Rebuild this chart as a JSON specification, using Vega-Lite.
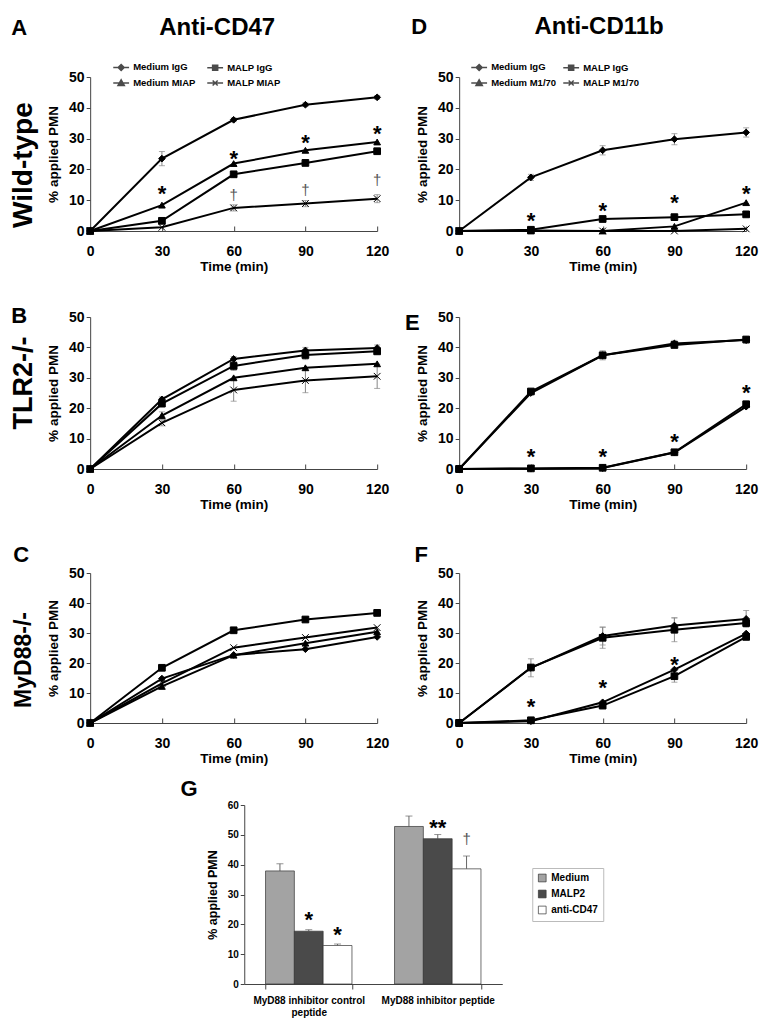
{
  "$schema": "https://vega.github.io/schema/vega-lite/v6.json",
  "padding": {"left": 10, "top": 15, "right": 5, "bottom": 5},
  "config": {
    "font": "Liberation Sans",
    "view": {"stroke": null},
    "axis": {"grid": false, "labelFontWeight": "bold", "titleFontWeight": "bold", "labelColor": "#000", "titleColor": "#000", "domainColor": "#444", "tickColor": "#444"},
    "axisX": {"labelFontSize": 14, "titleFontSize": 13.5, "tickSize": -5, "labelPadding": 18, "titlePadding": 1, "labelFlush": false, "labelOverlap": false},
    "axisY": {"labelFontSize": 14, "titleFontSize": 13.5, "tickSize": 4, "labelPadding": 2, "titlePadding": 8},
    "legend": {"labelFontWeight": "bold", "labelColor": "#000", "layout": {"right": {"anchor": "middle"}}}
  },
  "datasets": {
    "lines": [
      {"p":"A","s":"Medium IgG","t":0,"v":0},{"p":"A","s":"Medium IgG","t":30,"v":23.5,"err":2.3},{"p":"A","s":"Medium IgG","t":60,"v":36.1,"err":0.6},{"p":"A","s":"Medium IgG","t":90,"v":41.0,"err":0.6},{"p":"A","s":"Medium IgG","t":120,"v":43.4,"err":0.6},
      {"p":"A","s":"Medium MIAP","t":0,"v":0},{"p":"A","s":"Medium MIAP","t":30,"v":8.4},{"p":"A","s":"Medium MIAP","t":60,"v":21.9},{"p":"A","s":"Medium MIAP","t":90,"v":26.2},{"p":"A","s":"Medium MIAP","t":120,"v":28.9},
      {"p":"A","s":"MALP MIAP","t":0,"v":0},{"p":"A","s":"MALP MIAP","t":30,"v":1.2},{"p":"A","s":"MALP MIAP","t":60,"v":7.5,"err":1},{"p":"A","s":"MALP MIAP","t":90,"v":8.9,"err":1},{"p":"A","s":"MALP MIAP","t":120,"v":10.5,"err":1.3},
      {"p":"A","s":"MALP IgG","t":0,"v":0},{"p":"A","s":"MALP IgG","t":30,"v":3.3},{"p":"A","s":"MALP IgG","t":60,"v":18.4,"err":1},{"p":"A","s":"MALP IgG","t":90,"v":22.1},{"p":"A","s":"MALP IgG","t":120,"v":25.9,"err":0.8},
      {"p":"D","s":"Medium IgG","t":0,"v":0},{"p":"D","s":"Medium IgG","t":30,"v":17.4,"err":1},{"p":"D","s":"Medium IgG","t":60,"v":26.2,"err":1.5},{"p":"D","s":"Medium IgG","t":90,"v":29.8,"err":1.8},{"p":"D","s":"Medium IgG","t":120,"v":32.0,"err":1.5},
      {"p":"D","s":"Medium M1/70","t":0,"v":0},{"p":"D","s":"Medium M1/70","t":30,"v":0},{"p":"D","s":"Medium M1/70","t":60,"v":0},{"p":"D","s":"Medium M1/70","t":90,"v":1.5},{"p":"D","s":"Medium M1/70","t":120,"v":9.2},
      {"p":"D","s":"MALP M1/70","t":0,"v":0},{"p":"D","s":"MALP M1/70","t":30,"v":0.2},{"p":"D","s":"MALP M1/70","t":60,"v":0},{"p":"D","s":"MALP M1/70","t":90,"v":0},{"p":"D","s":"MALP M1/70","t":120,"v":0.7},
      {"p":"D","s":"MALP IgG","t":0,"v":0},{"p":"D","s":"MALP IgG","t":30,"v":0.4},{"p":"D","s":"MALP IgG","t":60,"v":3.9},{"p":"D","s":"MALP IgG","t":90,"v":4.5},{"p":"D","s":"MALP IgG","t":120,"v":5.4},
      {"p":"B","s":"Medium IgG","t":0,"v":0},{"p":"B","s":"Medium IgG","t":30,"v":22.9,"err":0.8},{"p":"B","s":"Medium IgG","t":60,"v":36.2,"err":0.8},{"p":"B","s":"Medium IgG","t":90,"v":39.0,"err":1},{"p":"B","s":"Medium IgG","t":120,"v":39.8,"err":1},
      {"p":"B","s":"Medium MIAP","t":0,"v":0},{"p":"B","s":"Medium MIAP","t":30,"v":17.6,"err":1.2},{"p":"B","s":"Medium MIAP","t":60,"v":30.0},{"p":"B","s":"Medium MIAP","t":90,"v":33.3},{"p":"B","s":"Medium MIAP","t":120,"v":34.6},
      {"p":"B","s":"MALP MIAP","t":0,"v":0},{"p":"B","s":"MALP MIAP","t":30,"v":15.2,"err":1},{"p":"B","s":"MALP MIAP","t":60,"v":26.0,"err":3.7},{"p":"B","s":"MALP MIAP","t":90,"v":29.1,"err":4},{"p":"B","s":"MALP MIAP","t":120,"v":30.5,"err":4},
      {"p":"B","s":"MALP IgG","t":0,"v":0},{"p":"B","s":"MALP IgG","t":30,"v":21.5},{"p":"B","s":"MALP IgG","t":60,"v":33.9,"err":1.5},{"p":"B","s":"MALP IgG","t":90,"v":37.5,"err":1.5},{"p":"B","s":"MALP IgG","t":120,"v":38.7,"err":1},
      {"p":"E","s":"Medium IgG","t":0,"v":0},{"p":"E","s":"Medium IgG","t":30,"v":25.0},{"p":"E","s":"Medium IgG","t":60,"v":37.4,"err":1.5},{"p":"E","s":"Medium IgG","t":90,"v":41.3,"err":1},{"p":"E","s":"Medium IgG","t":120,"v":42.4,"err":1},
      {"p":"E","s":"Medium M1/70","t":0,"v":0},{"p":"E","s":"Medium M1/70","t":30,"v":0.1},{"p":"E","s":"Medium M1/70","t":60,"v":0.3},{"p":"E","s":"Medium M1/70","t":90,"v":5.4},{"p":"E","s":"Medium M1/70","t":120,"v":20.5},
      {"p":"E","s":"MALP M1/70","t":0,"v":0},{"p":"E","s":"MALP M1/70","t":30,"v":0.2},{"p":"E","s":"MALP M1/70","t":60,"v":0.4},{"p":"E","s":"MALP M1/70","t":90,"v":5.5},{"p":"E","s":"MALP M1/70","t":120,"v":21.3},
      {"p":"E","s":"MALP IgG","t":0,"v":0},{"p":"E","s":"MALP IgG","t":30,"v":25.5},{"p":"E","s":"MALP IgG","t":60,"v":37.4},{"p":"E","s":"MALP IgG","t":90,"v":40.8},{"p":"E","s":"MALP IgG","t":120,"v":42.6},
      {"p":"C","s":"Medium IgG","t":0,"v":0},{"p":"C","s":"Medium IgG","t":30,"v":14.8},{"p":"C","s":"Medium IgG","t":60,"v":22.7},{"p":"C","s":"Medium IgG","t":90,"v":24.6},{"p":"C","s":"Medium IgG","t":120,"v":28.7},
      {"p":"C","s":"Medium MIAP","t":0,"v":0},{"p":"C","s":"Medium MIAP","t":30,"v":12.2},{"p":"C","s":"Medium MIAP","t":60,"v":22.6},{"p":"C","s":"Medium MIAP","t":90,"v":26.6},{"p":"C","s":"Medium MIAP","t":120,"v":30.4},
      {"p":"C","s":"MALP MIAP","t":0,"v":0},{"p":"C","s":"MALP MIAP","t":30,"v":13.2},{"p":"C","s":"MALP MIAP","t":60,"v":25.1},{"p":"C","s":"MALP MIAP","t":90,"v":28.5},{"p":"C","s":"MALP MIAP","t":120,"v":31.8},
      {"p":"C","s":"MALP IgG","t":0,"v":0},{"p":"C","s":"MALP IgG","t":30,"v":18.4},{"p":"C","s":"MALP IgG","t":60,"v":30.9},{"p":"C","s":"MALP IgG","t":90,"v":34.5},{"p":"C","s":"MALP IgG","t":120,"v":36.7},
      {"p":"F","s":"Medium IgG","t":0,"v":0},{"p":"F","s":"Medium IgG","t":30,"v":18.4,"err":3},{"p":"F","s":"Medium IgG","t":60,"v":29.0,"err":3},{"p":"F","s":"Medium IgG","t":90,"v":32.5,"err":2.5},{"p":"F","s":"Medium IgG","t":120,"v":34.7,"err":2.8},
      {"p":"F","s":"Medium M1/70","t":0,"v":0},{"p":"F","s":"Medium M1/70","t":30,"v":0.6},{"p":"F","s":"Medium M1/70","t":60,"v":6.9},{"p":"F","s":"Medium M1/70","t":90,"v":17.8},{"p":"F","s":"Medium M1/70","t":120,"v":29.8},
      {"p":"F","s":"MALP M1/70","t":0,"v":0},{"p":"F","s":"MALP M1/70","t":30,"v":0.9},{"p":"F","s":"MALP M1/70","t":60,"v":5.8,"err":1},{"p":"F","s":"MALP M1/70","t":90,"v":15.6,"err":2},{"p":"F","s":"MALP M1/70","t":120,"v":28.7},
      {"p":"F","s":"MALP IgG","t":0,"v":0},{"p":"F","s":"MALP IgG","t":30,"v":18.5},{"p":"F","s":"MALP IgG","t":60,"v":28.4,"err":3.5},{"p":"F","s":"MALP IgG","t":90,"v":31.1,"err":4},{"p":"F","s":"MALP IgG","t":120,"v":33.3}
    ],
    "ann": [
      {"p":"A","t":30,"v":13.5,"txt":"*"},{"p":"A","t":60,"v":25,"txt":"*"},{"p":"A","t":90,"v":30.3,"txt":"*"},{"p":"A","t":120,"v":33,"txt":"*"},
      {"p":"A","t":60,"v":11.7,"txt":"†"},{"p":"A","t":90,"v":13.3,"txt":"†"},{"p":"A","t":120,"v":16.5,"txt":"†"},
      {"p":"D","t":30,"v":5,"txt":"*"},{"p":"D","t":60,"v":8.1,"txt":"*"},{"p":"D","t":90,"v":10.7,"txt":"*"},{"p":"D","t":120,"v":13.6,"txt":"*"},
      {"p":"E","t":30,"v":5.5,"txt":"*"},{"p":"E","t":60,"v":5.5,"txt":"*"},{"p":"E","t":90,"v":10.4,"txt":"*"},{"p":"E","t":120,"v":26.7,"txt":"*"},
      {"p":"F","t":30,"v":7.1,"txt":"*"},{"p":"F","t":60,"v":13.2,"txt":"*"},{"p":"F","t":90,"v":21,"txt":"*"}
    ],
    "bars": [
      {"grp":"MyD88 inhibitor control peptide","cond":"Medium","v":37.9,"hi":40.3},
      {"grp":"MyD88 inhibitor control peptide","cond":"MALP2","v":17.7,"hi":18.2},
      {"grp":"MyD88 inhibitor control peptide","cond":"anti-CD47","v":12.9,"hi":13.4},
      {"grp":"MyD88 inhibitor peptide","cond":"Medium","v":52.8,"hi":56.3},
      {"grp":"MyD88 inhibitor peptide","cond":"MALP2","v":48.7,"hi":50.1},
      {"grp":"MyD88 inhibitor peptide","cond":"anti-CD47","v":38.6,"hi":42.9}
    ],
    "gann": [
      {"grp":"MyD88 inhibitor control peptide","cond":"MALP2","v":23,"txt":"*"},
      {"grp":"MyD88 inhibitor control peptide","cond":"anti-CD47","v":18.2,"txt":"*"},
      {"grp":"MyD88 inhibitor peptide","cond":"MALP2","v":53.8,"txt":"**"},
      {"grp":"MyD88 inhibitor peptide","cond":"anti-CD47","v":48.5,"txt":"†"}
    ]
  },
  "vconcat": [
    {
      "vconcat": [
        {
          "hconcat": [
            {
              "width": 287, "height": 154,
              "layer": [
                {"data": {"name": "lines"}, "transform": [{"filter": "datum.p == 'A' && datum.err > 0"}], "mark": {"type": "errorbar", "ticks": true, "color": "#888", "size": 6},
                 "encoding": {"x": {"field": "t", "type": "quantitative", "scale": {"domain": [0, 120]}, "axis": {"values": [0, 30, 60, 90, 120], "title": "Time (min)"}}, "y": {"field": "v", "type": "quantitative", "scale": {"domain": [0, 50]}, "axis": {"values": [0, 10, 20, 30, 40, 50], "title": "% applied PMN"}}, "yError": {"field": "err"}}},
                {"data": {"name": "lines"}, "transform": [{"filter": "datum.p == 'A'"}], "mark": {"type": "line", "color": "black", "strokeWidth": 2},
                 "encoding": {"x": {"field": "t", "type": "quantitative", "scale": {"domain": [0, 120]}, "axis": {"values": [0, 30, 60, 90, 120], "title": "Time (min)"}}, "y": {"field": "v", "type": "quantitative", "scale": {"domain": [0, 50]}, "axis": {"values": [0, 10, 20, 30, 40, 50], "title": "% applied PMN"}}, "detail": {"field": "s"}}},
                {"data": {"name": "lines"}, "transform": [{"filter": "datum.p == 'A'"}], "mark": {"type": "point", "filled": true, "fill": "black", "stroke": "black", "strokeWidth": 1, "size": 45, "opacity": 1},
                 "encoding": {"x": {"field": "t", "type": "quantitative", "scale": {"domain": [0, 120]}, "axis": {"values": [0, 30, 60, 90, 120], "title": "Time (min)"}}, "y": {"field": "v", "type": "quantitative", "scale": {"domain": [0, 50]}, "axis": {"values": [0, 10, 20, 30, 40, 50], "title": "% applied PMN"}},
                              "shape": {"field": "s", "type": "nominal", "scale": {"domain": ["Medium IgG", "MALP IgG", "Medium MIAP", "MALP MIAP"], "range": ["diamond", "square", "triangle-up", "M-1,-1L1,1M-1,1L1,-1"]}, "legend": null}}},
                {"data": {"name": "lines"}, "transform": [{"filter": "false"}], "mark": {"type": "point", "filled": true, "fill": "black", "stroke": "black"},
                 "encoding": {"x": {"field": "t", "type": "quantitative", "scale": {"domain": [0, 120]}, "axis": {"values": [0, 30, 60, 90, 120], "title": "Time (min)"}}, "y": {"field": "v", "type": "quantitative", "scale": {"domain": [0, 50]}, "axis": {"values": [0, 10, 20, 30, 40, 50], "title": "% applied PMN"}},
                   "shape": {"field": "s", "type": "nominal", "scale": {"domain": ["Medium IgG", "Medium MIAP", "MALP IgG", "MALP MIAP"], "range": ["M-1,0H1M0,-0.38L0.38,0L0,0.38L-0.38,0Z", "M-1,0H1M0,-0.4L0.4,0.32H-0.4Z", "M-1,0H1M-0.32,-0.32H0.32V0.32H-0.32Z", "M-1,0H1M-0.32,-0.32L0.32,0.32M-0.32,0.32L0.32,-0.32"]},
                   "legend": {"orient": "none", "legendX": 22, "legendY": -19, "columns": 2, "title": null, "symbolSize": 250, "labelFontSize": 9.5, "labelOffset": 3, "rowPadding": 0, "columnPadding": 8, "padding": 0,
                     "encode": {"symbols": {"update": {"stroke": {"value": "black"}, "strokeWidth": {"value": 1.5}, "fill": {"value": "black"}, "opacity": {"value": 1}}}}}}}},
                {"data": {"name": "ann"}, "transform": [{"filter": "datum.p == 'A' && datum.txt == '*'"}], "mark": {"type": "text", "fontSize": 22, "fontWeight": "bold", "dy": 5},
                 "encoding": {"x": {"field": "t", "type": "quantitative", "scale": {"domain": [0, 120]}, "axis": {"values": [0, 30, 60, 90, 120], "title": "Time (min)"}}, "y": {"field": "v", "type": "quantitative", "scale": {"domain": [0, 50]}, "axis": {"values": [0, 10, 20, 30, 40, 50], "title": "% applied PMN"}}, "text": {"field": "txt"}}},
                {"data": {"name": "ann"}, "transform": [{"filter": "datum.p == 'A' && datum.txt == '†'"}], "mark": {"type": "text", "fontSize": 15, "color": "#555"},
                 "encoding": {"x": {"field": "t", "type": "quantitative", "scale": {"domain": [0, 120]}, "axis": {"values": [0, 30, 60, 90, 120], "title": "Time (min)"}}, "y": {"field": "v", "type": "quantitative", "scale": {"domain": [0, 50]}, "axis": {"values": [0, 10, 20, 30, 40, 50], "title": "% applied PMN"}}, "text": {"field": "txt"}}},
                {"data": {"values": [{"label": "A"}]}, "mark": {"type": "text", "fontSize": 22, "fontWeight": "bold"}, "encoding": {"x": {"datum": -29.7, "type": "quantitative", "scale": {"domain": [0, 120]}, "axis": {"values": [0, 30, 60, 90, 120], "title": "Time (min)"}}, "y": {"datum": 65.9, "type": "quantitative", "scale": {"domain": [0, 50]}, "axis": {"values": [0, 10, 20, 30, 40, 50], "title": "% applied PMN"}}, "text": {"field": "label"}}},
                {"data": {"values": [{"label": "Anti-CD47"}]}, "mark": {"type": "text", "fontSize": 24, "fontWeight": "bold"}, "encoding": {"x": {"datum": 53.1, "type": "quantitative", "scale": {"domain": [0, 120]}, "axis": {"values": [0, 30, 60, 90, 120], "title": "Time (min)"}}, "y": {"datum": 65.9, "type": "quantitative", "scale": {"domain": [0, 50]}, "axis": {"values": [0, 10, 20, 30, 40, 50], "title": "% applied PMN"}}, "text": {"field": "label"}}},
                {"data": {"values": [{"label": "Wild-type"}]}, "mark": {"type": "text", "fontSize": 28, "fontWeight": "bold", "angle": 270}, "encoding": {"x": {"datum": -27.6, "type": "quantitative", "scale": {"domain": [0, 120]}, "axis": {"values": [0, 30, 60, 90, 120], "title": "Time (min)"}}, "y": {"datum": 21.4, "type": "quantitative", "scale": {"domain": [0, 50]}, "axis": {"values": [0, 10, 20, 30, 40, 50], "title": "% applied PMN"}}, "text": {"field": "label"}}}
              ],
              "resolve": {"scale": {"shape": "independent"}}
            },
            {
              "width": 287, "height": 154,
              "layer": [
                {"data": {"name": "lines"}, "transform": [{"filter": "datum.p == 'D' && datum.err > 0"}], "mark": {"type": "errorbar", "ticks": true, "color": "#888", "size": 6},
                 "encoding": {"x": {"field": "t", "type": "quantitative", "scale": {"domain": [0, 120]}, "axis": {"values": [0, 30, 60, 90, 120], "title": "Time (min)"}}, "y": {"field": "v", "type": "quantitative", "scale": {"domain": [0, 50]}, "axis": {"values": [0, 10, 20, 30, 40, 50], "title": "% applied PMN"}}, "yError": {"field": "err"}}},
                {"data": {"name": "lines"}, "transform": [{"filter": "datum.p == 'D'"}], "mark": {"type": "line", "color": "black", "strokeWidth": 2},
                 "encoding": {"x": {"field": "t", "type": "quantitative", "scale": {"domain": [0, 120]}, "axis": {"values": [0, 30, 60, 90, 120], "title": "Time (min)"}}, "y": {"field": "v", "type": "quantitative", "scale": {"domain": [0, 50]}, "axis": {"values": [0, 10, 20, 30, 40, 50], "title": "% applied PMN"}}, "detail": {"field": "s"}}},
                {"data": {"name": "lines"}, "transform": [{"filter": "datum.p == 'D'"}], "mark": {"type": "point", "filled": true, "fill": "black", "stroke": "black", "strokeWidth": 1, "size": 45, "opacity": 1},
                 "encoding": {"x": {"field": "t", "type": "quantitative", "scale": {"domain": [0, 120]}, "axis": {"values": [0, 30, 60, 90, 120], "title": "Time (min)"}}, "y": {"field": "v", "type": "quantitative", "scale": {"domain": [0, 50]}, "axis": {"values": [0, 10, 20, 30, 40, 50], "title": "% applied PMN"}},
                              "shape": {"field": "s", "type": "nominal", "scale": {"domain": ["Medium IgG", "MALP IgG", "Medium M1/70", "MALP M1/70"], "range": ["diamond", "square", "triangle-up", "M-1,-1L1,1M-1,1L1,-1"]}, "legend": null}}},
                {"data": {"name": "lines"}, "transform": [{"filter": "false"}], "mark": {"type": "point", "filled": true, "fill": "black", "stroke": "black"},
                 "encoding": {"x": {"field": "t", "type": "quantitative", "scale": {"domain": [0, 120]}, "axis": {"values": [0, 30, 60, 90, 120], "title": "Time (min)"}}, "y": {"field": "v", "type": "quantitative", "scale": {"domain": [0, 50]}, "axis": {"values": [0, 10, 20, 30, 40, 50], "title": "% applied PMN"}},
                   "shape": {"field": "s", "type": "nominal", "scale": {"domain": ["Medium IgG", "Medium M1/70", "MALP IgG", "MALP M1/70"], "range": ["M-1,0H1M0,-0.38L0.38,0L0,0.38L-0.38,0Z", "M-1,0H1M0,-0.4L0.4,0.32H-0.4Z", "M-1,0H1M-0.32,-0.32H0.32V0.32H-0.32Z", "M-1,0H1M-0.32,-0.32L0.32,0.32M-0.32,0.32L0.32,-0.32"]},
                   "legend": {"orient": "none", "legendX": 11, "legendY": -19, "columns": 2, "title": null, "symbolSize": 250, "labelFontSize": 9.5, "labelOffset": 3, "rowPadding": 0, "columnPadding": 4, "padding": 0,
                     "encode": {"symbols": {"update": {"stroke": {"value": "black"}, "strokeWidth": {"value": 1.5}, "fill": {"value": "black"}, "opacity": {"value": 1}}}}}}}},
                {"data": {"name": "ann"}, "transform": [{"filter": "datum.p == 'D' && datum.txt == '*'"}], "mark": {"type": "text", "fontSize": 22, "fontWeight": "bold", "dy": 5},
                 "encoding": {"x": {"field": "t", "type": "quantitative", "scale": {"domain": [0, 120]}, "axis": {"values": [0, 30, 60, 90, 120], "title": "Time (min)"}}, "y": {"field": "v", "type": "quantitative", "scale": {"domain": [0, 50]}, "axis": {"values": [0, 10, 20, 30, 40, 50], "title": "% applied PMN"}}, "text": {"field": "txt"}}},
                {"data": {"values": [{"label": "D"}]}, "mark": {"type": "text", "fontSize": 22, "fontWeight": "bold"}, "encoding": {"x": {"datum": -16.7, "type": "quantitative", "scale": {"domain": [0, 120]}, "axis": {"values": [0, 30, 60, 90, 120], "title": "Time (min)"}}, "y": {"datum": 66.1, "type": "quantitative", "scale": {"domain": [0, 50]}, "axis": {"values": [0, 10, 20, 30, 40, 50], "title": "% applied PMN"}}, "text": {"field": "label"}}},
                {"data": {"values": [{"label": "Anti-CD11b"}]}, "mark": {"type": "text", "fontSize": 24, "fontWeight": "bold"}, "encoding": {"x": {"datum": 58.5, "type": "quantitative", "scale": {"domain": [0, 120]}, "axis": {"values": [0, 30, 60, 90, 120], "title": "Time (min)"}}, "y": {"datum": 66.1, "type": "quantitative", "scale": {"domain": [0, 50]}, "axis": {"values": [0, 10, 20, 30, 40, 50], "title": "% applied PMN"}}, "text": {"field": "label"}}}
              ],
              "resolve": {"scale": {"shape": "independent"}}
            }
          ],
          "spacing": 82, "bounds": "flush"
        },
        {
          "hconcat": [
            {
              "width": 287, "height": 152,
              "layer": [
                {"data": {"name": "lines"}, "transform": [{"filter": "datum.p == 'B' && datum.err > 0"}], "mark": {"type": "errorbar", "ticks": true, "color": "#888", "size": 6},
                 "encoding": {"x": {"field": "t", "type": "quantitative", "scale": {"domain": [0, 120]}, "axis": {"values": [0, 30, 60, 90, 120], "title": "Time (min)"}}, "y": {"field": "v", "type": "quantitative", "scale": {"domain": [0, 50]}, "axis": {"values": [0, 10, 20, 30, 40, 50], "title": "% applied PMN"}}, "yError": {"field": "err"}}},
                {"data": {"name": "lines"}, "transform": [{"filter": "datum.p == 'B'"}], "mark": {"type": "line", "color": "black", "strokeWidth": 2},
                 "encoding": {"x": {"field": "t", "type": "quantitative", "scale": {"domain": [0, 120]}, "axis": {"values": [0, 30, 60, 90, 120], "title": "Time (min)"}}, "y": {"field": "v", "type": "quantitative", "scale": {"domain": [0, 50]}, "axis": {"values": [0, 10, 20, 30, 40, 50], "title": "% applied PMN"}}, "detail": {"field": "s"}}},
                {"data": {"name": "lines"}, "transform": [{"filter": "datum.p == 'B'"}], "mark": {"type": "point", "filled": true, "fill": "black", "stroke": "black", "strokeWidth": 1, "size": 45, "opacity": 1},
                 "encoding": {"x": {"field": "t", "type": "quantitative", "scale": {"domain": [0, 120]}, "axis": {"values": [0, 30, 60, 90, 120], "title": "Time (min)"}}, "y": {"field": "v", "type": "quantitative", "scale": {"domain": [0, 50]}, "axis": {"values": [0, 10, 20, 30, 40, 50], "title": "% applied PMN"}},
                              "shape": {"field": "s", "type": "nominal", "scale": {"domain": ["Medium IgG", "MALP IgG", "Medium MIAP", "MALP MIAP"], "range": ["diamond", "square", "triangle-up", "M-1,-1L1,1M-1,1L1,-1"]}, "legend": null}}},
                {"data": {"values": [{"label": "B"}]}, "mark": {"type": "text", "fontSize": 22, "fontWeight": "bold"}, "encoding": {"x": {"datum": -29.7, "type": "quantitative", "scale": {"domain": [0, 120]}, "axis": {"values": [0, 30, 60, 90, 120], "title": "Time (min)"}}, "y": {"datum": 50.3, "type": "quantitative", "scale": {"domain": [0, 50]}, "axis": {"values": [0, 10, 20, 30, 40, 50], "title": "% applied PMN"}}, "text": {"field": "label"}}},
                {"data": {"values": [{"label": "TLR2-/-"}]}, "mark": {"type": "text", "fontSize": 27, "fontWeight": "bold", "angle": 270}, "encoding": {"x": {"datum": -27.6, "type": "quantitative", "scale": {"domain": [0, 120]}, "axis": {"values": [0, 30, 60, 90, 120], "title": "Time (min)"}}, "y": {"datum": 28.3, "type": "quantitative", "scale": {"domain": [0, 50]}, "axis": {"values": [0, 10, 20, 30, 40, 50], "title": "% applied PMN"}}, "text": {"field": "label"}}}
              ]
            },
            {
              "width": 287, "height": 152,
              "layer": [
                {"data": {"name": "lines"}, "transform": [{"filter": "datum.p == 'E' && datum.err > 0"}], "mark": {"type": "errorbar", "ticks": true, "color": "#888", "size": 6},
                 "encoding": {"x": {"field": "t", "type": "quantitative", "scale": {"domain": [0, 120]}, "axis": {"values": [0, 30, 60, 90, 120], "title": "Time (min)"}}, "y": {"field": "v", "type": "quantitative", "scale": {"domain": [0, 50]}, "axis": {"values": [0, 10, 20, 30, 40, 50], "title": "% applied PMN"}}, "yError": {"field": "err"}}},
                {"data": {"name": "lines"}, "transform": [{"filter": "datum.p == 'E'"}], "mark": {"type": "line", "color": "black", "strokeWidth": 2},
                 "encoding": {"x": {"field": "t", "type": "quantitative", "scale": {"domain": [0, 120]}, "axis": {"values": [0, 30, 60, 90, 120], "title": "Time (min)"}}, "y": {"field": "v", "type": "quantitative", "scale": {"domain": [0, 50]}, "axis": {"values": [0, 10, 20, 30, 40, 50], "title": "% applied PMN"}}, "detail": {"field": "s"}}},
                {"data": {"name": "lines"}, "transform": [{"filter": "datum.p == 'E'"}], "mark": {"type": "point", "filled": true, "fill": "black", "stroke": "black", "strokeWidth": 1, "size": 45, "opacity": 1},
                 "encoding": {"x": {"field": "t", "type": "quantitative", "scale": {"domain": [0, 120]}, "axis": {"values": [0, 30, 60, 90, 120], "title": "Time (min)"}}, "y": {"field": "v", "type": "quantitative", "scale": {"domain": [0, 50]}, "axis": {"values": [0, 10, 20, 30, 40, 50], "title": "% applied PMN"}},
                              "shape": {"field": "s", "type": "nominal", "scale": {"domain": ["Medium IgG", "MALP IgG", "Medium M1/70", "MALP M1/70"], "range": ["diamond", "square", "triangle-up", "M-1,-1L1,1M-1,1L1,-1"]}, "legend": null}}},
                {"data": {"name": "ann"}, "transform": [{"filter": "datum.p == 'E' && datum.txt == '*'"}], "mark": {"type": "text", "fontSize": 22, "fontWeight": "bold", "dy": 5},
                 "encoding": {"x": {"field": "t", "type": "quantitative", "scale": {"domain": [0, 120]}, "axis": {"values": [0, 30, 60, 90, 120], "title": "Time (min)"}}, "y": {"field": "v", "type": "quantitative", "scale": {"domain": [0, 50]}, "axis": {"values": [0, 10, 20, 30, 40, 50], "title": "% applied PMN"}}, "text": {"field": "txt"}}},
                {"data": {"values": [{"label": "E"}]}, "mark": {"type": "text", "fontSize": 22, "fontWeight": "bold"}, "encoding": {"x": {"datum": -19.6, "type": "quantitative", "scale": {"domain": [0, 120]}, "axis": {"values": [0, 30, 60, 90, 120], "title": "Time (min)"}}, "y": {"datum": 48, "type": "quantitative", "scale": {"domain": [0, 50]}, "axis": {"values": [0, 10, 20, 30, 40, 50], "title": "% applied PMN"}}, "text": {"field": "label"}}}
              ]
            }
          ],
          "spacing": 82, "bounds": "flush"
        },
        {
          "hconcat": [
            {
              "width": 287, "height": 150,
              "layer": [
                {"data": {"name": "lines"}, "transform": [{"filter": "datum.p == 'C'"}], "mark": {"type": "line", "color": "black", "strokeWidth": 2},
                 "encoding": {"x": {"field": "t", "type": "quantitative", "scale": {"domain": [0, 120]}, "axis": {"values": [0, 30, 60, 90, 120], "title": "Time (min)"}}, "y": {"field": "v", "type": "quantitative", "scale": {"domain": [0, 50]}, "axis": {"values": [0, 10, 20, 30, 40, 50], "title": "% applied PMN"}}, "detail": {"field": "s"}}},
                {"data": {"name": "lines"}, "transform": [{"filter": "datum.p == 'C'"}], "mark": {"type": "point", "filled": true, "fill": "black", "stroke": "black", "strokeWidth": 1, "size": 45, "opacity": 1},
                 "encoding": {"x": {"field": "t", "type": "quantitative", "scale": {"domain": [0, 120]}, "axis": {"values": [0, 30, 60, 90, 120], "title": "Time (min)"}}, "y": {"field": "v", "type": "quantitative", "scale": {"domain": [0, 50]}, "axis": {"values": [0, 10, 20, 30, 40, 50], "title": "% applied PMN"}},
                              "shape": {"field": "s", "type": "nominal", "scale": {"domain": ["Medium IgG", "MALP IgG", "Medium MIAP", "MALP MIAP"], "range": ["diamond", "square", "triangle-up", "M-1,-1L1,1M-1,1L1,-1"]}, "legend": null}}},
                {"data": {"values": [{"label": "C"}]}, "mark": {"type": "text", "fontSize": 22, "fontWeight": "bold"}, "encoding": {"x": {"datum": -28.8, "type": "quantitative", "scale": {"domain": [0, 120]}, "axis": {"values": [0, 30, 60, 90, 120], "title": "Time (min)"}}, "y": {"datum": 56, "type": "quantitative", "scale": {"domain": [0, 50]}, "axis": {"values": [0, 10, 20, 30, 40, 50], "title": "% applied PMN"}}, "text": {"field": "label"}}},
                {"data": {"values": [{"label": "G"}]}, "mark": {"type": "text", "fontSize": 22, "fontWeight": "bold"}, "encoding": {"x": {"datum": 41.4, "type": "quantitative", "scale": {"domain": [0, 120]}, "axis": {"values": [0, 30, 60, 90, 120], "title": "Time (min)"}}, "y": {"datum": -22, "type": "quantitative", "scale": {"domain": [0, 50]}, "axis": {"values": [0, 10, 20, 30, 40, 50], "title": "% applied PMN"}}, "text": {"field": "label"}}},
                {"data": {"values": [{"label": "MyD88-/-"}]}, "mark": {"type": "text", "fontSize": 23, "fontWeight": "bold", "angle": 270}, "encoding": {"x": {"datum": -27.6, "type": "quantitative", "scale": {"domain": [0, 120]}, "axis": {"values": [0, 30, 60, 90, 120], "title": "Time (min)"}}, "y": {"datum": 21, "type": "quantitative", "scale": {"domain": [0, 50]}, "axis": {"values": [0, 10, 20, 30, 40, 50], "title": "% applied PMN"}}, "text": {"field": "label"}}}
              ]
            },
            {
              "width": 287, "height": 150,
              "layer": [
                {"data": {"name": "lines"}, "transform": [{"filter": "datum.p == 'F' && datum.err > 0"}], "mark": {"type": "errorbar", "ticks": true, "color": "#888", "size": 6},
                 "encoding": {"x": {"field": "t", "type": "quantitative", "scale": {"domain": [0, 120]}, "axis": {"values": [0, 30, 60, 90, 120], "title": "Time (min)"}}, "y": {"field": "v", "type": "quantitative", "scale": {"domain": [0, 50]}, "axis": {"values": [0, 10, 20, 30, 40, 50], "title": "% applied PMN"}}, "yError": {"field": "err"}}},
                {"data": {"name": "lines"}, "transform": [{"filter": "datum.p == 'F'"}], "mark": {"type": "line", "color": "black", "strokeWidth": 2},
                 "encoding": {"x": {"field": "t", "type": "quantitative", "scale": {"domain": [0, 120]}, "axis": {"values": [0, 30, 60, 90, 120], "title": "Time (min)"}}, "y": {"field": "v", "type": "quantitative", "scale": {"domain": [0, 50]}, "axis": {"values": [0, 10, 20, 30, 40, 50], "title": "% applied PMN"}}, "detail": {"field": "s"}}},
                {"data": {"name": "lines"}, "transform": [{"filter": "datum.p == 'F'"}], "mark": {"type": "point", "filled": true, "fill": "black", "stroke": "black", "strokeWidth": 1, "size": 45, "opacity": 1},
                 "encoding": {"x": {"field": "t", "type": "quantitative", "scale": {"domain": [0, 120]}, "axis": {"values": [0, 30, 60, 90, 120], "title": "Time (min)"}}, "y": {"field": "v", "type": "quantitative", "scale": {"domain": [0, 50]}, "axis": {"values": [0, 10, 20, 30, 40, 50], "title": "% applied PMN"}},
                              "shape": {"field": "s", "type": "nominal", "scale": {"domain": ["Medium IgG", "MALP IgG", "Medium M1/70", "MALP M1/70"], "range": ["diamond", "square", "triangle-up", "M-1,-1L1,1M-1,1L1,-1"]}, "legend": null}}},
                {"data": {"name": "ann"}, "transform": [{"filter": "datum.p == 'F' && datum.txt == '*'"}], "mark": {"type": "text", "fontSize": 22, "fontWeight": "bold", "dy": 5},
                 "encoding": {"x": {"field": "t", "type": "quantitative", "scale": {"domain": [0, 120]}, "axis": {"values": [0, 30, 60, 90, 120], "title": "Time (min)"}}, "y": {"field": "v", "type": "quantitative", "scale": {"domain": [0, 50]}, "axis": {"values": [0, 10, 20, 30, 40, 50], "title": "% applied PMN"}}, "text": {"field": "txt"}}},
                {"data": {"values": [{"label": "F"}]}, "mark": {"type": "text", "fontSize": 22, "fontWeight": "bold"}, "encoding": {"x": {"datum": -15.9, "type": "quantitative", "scale": {"domain": [0, 120]}, "axis": {"values": [0, 30, 60, 90, 120], "title": "Time (min)"}}, "y": {"datum": 56, "type": "quantitative", "scale": {"domain": [0, 50]}, "axis": {"values": [0, 10, 20, 30, 40, 50], "title": "% applied PMN"}}, "text": {"field": "label"}}}
              ]
            }
          ],
          "spacing": 82, "bounds": "flush"
        }
      ],
      "spacing": 32
    },
    {
      "hconcat": [
        {
          "width": 258, "height": 179,
          "data": {"name": "bars"},
          "encoding": {
            "x": {"field": "grp", "type": "nominal", "sort": null, "scale": {"paddingInner": 0.33, "paddingOuter": 0.165},
                  "axis": {"title": null, "labelAngle": 0, "tickBand": "extent", "tickSize": 5, "labelFontSize": 10, "labelPadding": 6,
                           "labelExpr": "datum.value == 'MyD88 inhibitor control peptide' ? ['MyD88 inhibitor control', 'peptide'] : datum.value"}},
            "xOffset": {"field": "cond", "type": "nominal", "scale": {"domain": ["Medium", "MALP2", "anti-CD47"]}},
            "y": {"field": "v", "type": "quantitative", "scale": {"domain": [0, 60]},
                  "axis": {"values": [0, 10, 20, 30, 40, 50, 60], "title": "% applied PMN", "labelFontSize": 10, "titleFontSize": 12.5, "titlePadding": 8}}
          },
          "layer": [
            {"mark": {"type": "rule", "color": "#666"}, "encoding": {"y2": {"field": "hi"}}},
            {"mark": {"type": "bar", "stroke": "#333", "strokeWidth": 0.7},
             "encoding": {"color": {"field": "cond", "type": "nominal", "scale": {"domain": ["Medium", "MALP2", "anti-CD47"], "range": ["#a3a3a3", "#4a4a4a", "#ffffff"]},
               "legend": {"orient": "right", "offset": 30, "title": null, "symbolType": "square", "symbolSize": 60, "symbolStrokeColor": "#333", "symbolStrokeWidth": 0.7, "labelFontSize": 10, "strokeColor": "#bbb", "padding": 5, "rowPadding": 4}}}},
            {"mark": {"type": "tick", "color": "#666", "size": 7, "thickness": 1}, "encoding": {"y": {"field": "hi", "type": "quantitative"}}},
            {"data": {"name": "gann"}, "transform": [{"filter": "datum.txt != '†'"}], "mark": {"type": "text", "fontSize": 22, "fontWeight": "bold", "dy": 5}, "encoding": {"text": {"field": "txt"}}},
            {"data": {"name": "gann"}, "transform": [{"filter": "datum.txt == '†'"}], "mark": {"type": "text", "fontSize": 15, "color": "#555"}, "encoding": {"text": {"field": "txt"}}}
          ]
        }
      ],
      "bounds": "flush",
      "resolve": {"scale": {"color": "independent"}, "legend": {"color": "independent"}}
    }
  ],
  "spacing": 0,
  "center": true,
  "resolve": {"scale": {"color": "independent"}, "legend": {"color": "independent"}}
}
